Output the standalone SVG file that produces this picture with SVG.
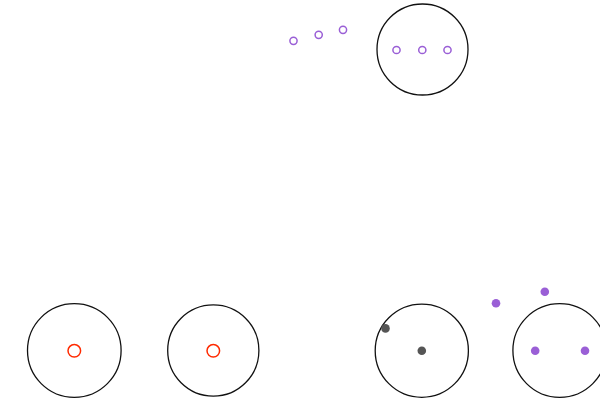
<svg xmlns="http://www.w3.org/2000/svg" width="600" height="412" viewBox="0 0 600 412">
<style>
.big{fill:none;stroke:#111;stroke-width:1.3}
.po{fill:none;stroke:#9a5fd6;stroke-width:1.5}
.ro{fill:none;stroke:#ff2a00;stroke-width:1.5}
.gd{fill:#555}
.pd{fill:#9a5fd6}
</style>
<rect width="600" height="412" fill="#fff"/>
<g id="node-top">
<circle class="big" cx="422.5" cy="49.5" r="45.5"/>
<circle class="po" cx="396.5" cy="50" r="3.6"/>
<circle class="po" cx="422.3" cy="50" r="3.6"/>
<circle class="po" cx="447.5" cy="50" r="3.6"/>
</g>
<g id="free-top">
<circle class="po" cx="293.5" cy="40.8" r="3.6"/>
<circle class="po" cx="318.7" cy="34.8" r="3.6"/>
<circle class="po" cx="343" cy="29.8" r="3.6"/>
</g>
<g id="node-a">
<circle class="big" cx="74.3" cy="350.5" r="46.8"/>
<circle class="ro" cx="74.3" cy="350.8" r="6.3"/>
</g>
<g id="node-b">
<circle class="big" cx="213.3" cy="350.5" r="45.6"/>
<circle class="ro" cx="213.3" cy="350.8" r="6.3"/>
</g>
<g id="node-c">
<circle class="big" cx="421.8" cy="350.7" r="46.6"/>
<circle class="gd" cx="421.8" cy="350.7" r="4.3"/>
<circle class="gd" cx="385.5" cy="328.4" r="4.3"/>
</g>
<g id="node-d">
<circle class="big" cx="559.7" cy="350.5" r="46.8"/>
<circle class="pd" cx="535.2" cy="350.7" r="4.3"/>
<circle class="pd" cx="585" cy="350.7" r="4.3"/>
</g>
<g id="free-bottom">
<circle class="pd" cx="496" cy="303.3" r="4.3"/>
<circle class="pd" cx="544.8" cy="291.7" r="4.3"/>
</g>
<g id="connectors"/>
</svg>
